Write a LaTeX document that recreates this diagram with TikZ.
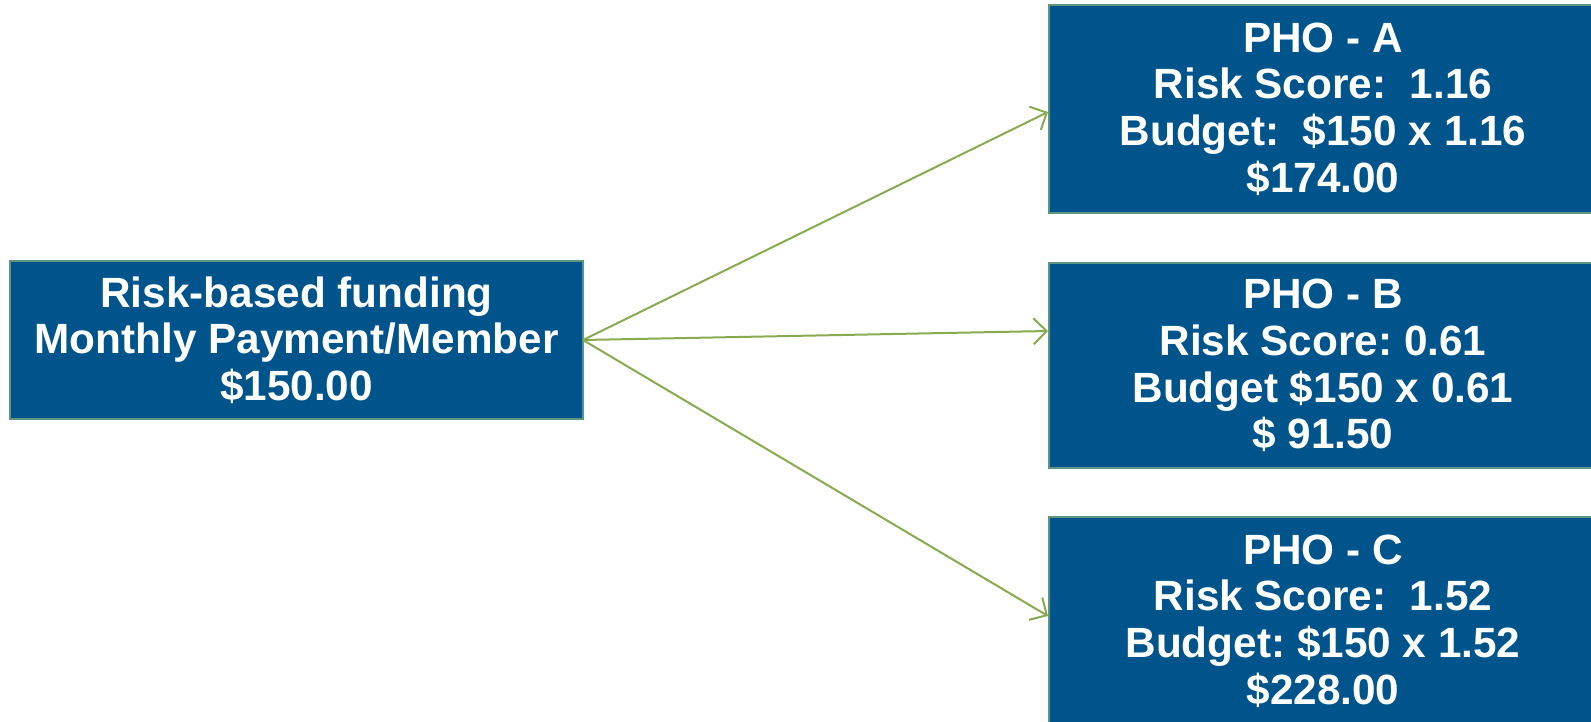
\documentclass[tikz,border=0pt]{standalone}
\usepackage{fontspec}
\setmainfont{Liberation Sans}
\usetikzlibrary{arrows.meta}
\definecolor{boxblue}{RGB}{0,84,140}
\definecolor{boxedge}{RGB}{92,150,130}
\definecolor{arrowgreen}{RGB}{137,171,80}
\frenchspacing
\begin{document}
\begin{tikzpicture}[x=1pt,y=-1pt,
  box/.style={draw=boxedge,line width=2pt,fill=boxblue,text=white,
    align=center,inner sep=0pt,font=\fontsize{42.3}{46.7}\selectfont\bfseries\frenchspacing},
  link/.style={draw=arrowgreen,line width=2pt,-{Straight Barb[length=13pt,width=26pt,line width=2pt]}}]
\useasboundingbox[fill=white] (0,0) rectangle (1591,721);
\node[box,minimum width=573pt,minimum height=158pt] (src) at (296.5,340)
  {Risk-based funding\\Monthly Payment/Member\\\$150.00};
\node[box,minimum width=548pt,minimum height=208pt] (a) at (1323,109)
  {PHO - A\\Risk Score:\ \ 1.16\\Budget:\ \ \$150 x 1.16\\\$174.00};
\node[box,minimum width=548pt,minimum height=205pt] (b) at (1323,365.5)
  {PHO - B\\Risk Score: 0.61\\Budget \$150 x 0.61\\\$ 91.50};
\node[box,minimum width=548pt,minimum height=208pt] (c) at (1323,621)
  {PHO - C\\Risk Score:\ \ 1.52\\Budget: \$150 x 1.52\\\$228.00};
\coordinate (s) at (583,340);
\draw[link] (s) -- ([yshift=-3pt]a.west);
\draw[link] (s) -- ([yshift=34.5pt]b.west);
\draw[link] (s) -- ([yshift=5pt]c.west);
\end{tikzpicture}
\end{document}
